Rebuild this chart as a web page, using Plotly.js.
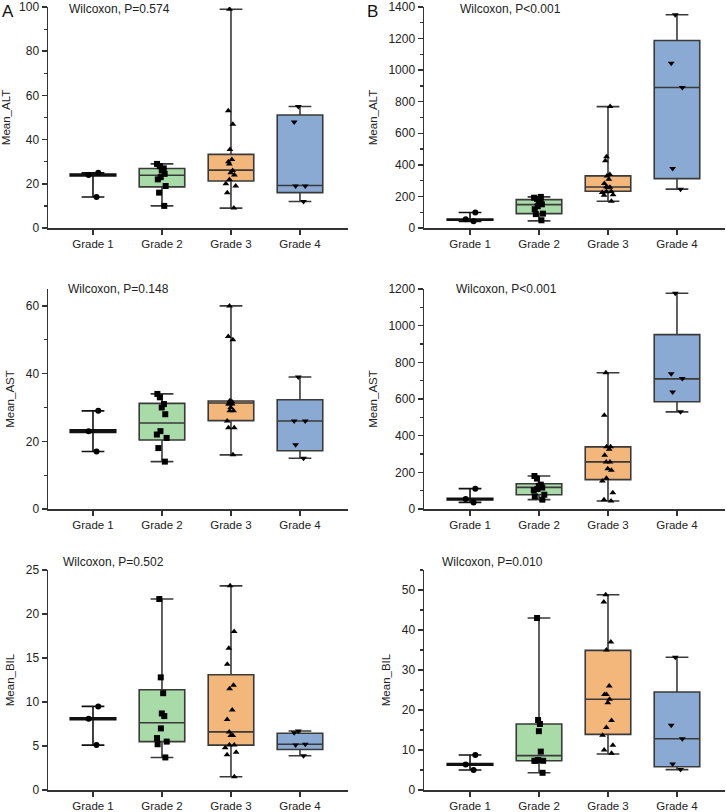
<!DOCTYPE html>
<html>
<head>
<meta charset="utf-8">
<script src="https://cdn.plot.ly/plotly-3.0.1.min.js"></script>
<style>html,body{margin:0;padding:0;background:#fff}#chart{width:726px;height:812px}</style>
</head>
<body>
<div id="chart"></div>
<script>
// ---------- data ----------
const categories = ['Grade 1', 'Grade 2', 'Grade 3', 'Grade 4'];

// Panel A – Mean_ALT
const altA_g1 = [14, 24, 25];
const altA_g2 = [10, 16, 19, 22, 23, 24.5, 26, 27, 28, 29];
const altA_g3 = [9, 16, 19, 20, 22, 24, 25, 26, 29, 30, 31, 35.5, 47, 53, 99];
const altA_g4 = [12, 19, 19, 48, 55];
const altA_q1 = [23.6, 18.6, 21.3, 16.0];
const altA_med = [24, 23.9, 26.2, 19.2];
const altA_q3 = [24.4, 26.9, 33.3, 51.1];
const altA_lo = [14, 10, 9, 12];
const altA_hi = [25, 29, 99, 55];

// Panel B – Mean_ALT
const altB_g1 = [42, 55, 98];
const altB_g2 = [49, 88, 91, 119, 138, 150, 155, 169, 185, 192, 197];
const altB_g3 = [169, 208, 210, 225, 230, 232, 255, 258, 262, 282, 309, 330, 339, 426, 451, 769];
const altB_g4 = [246, 377, 890, 1044, 1351];
const altB_q1 = [49, 91, 233, 313];
const altB_med = [53, 148, 260, 890];
const altB_q3 = [57, 180, 330, 1188];
const altB_lo = [42, 45, 169, 246];
const altB_hi = [98, 197, 769, 1351];

// Panel A – Mean_AST
const astA_g1 = [17, 23, 29];
const astA_g2 = [14, 18, 21, 22, 23, 28, 30, 31, 33, 34];
const astA_g3 = [16, 24, 24, 26, 29, 29, 30, 31, 31, 31, 31.7, 32, 50, 51, 60];
const astA_g4 = [15, 19, 26, 26, 39];
const astA_q1 = [22.6, 20.4, 26.1, 17.2];
const astA_med = [23, 25.4, 31.3, 26.0];
const astA_q3 = [23.4, 31.2, 31.9, 32.3];
const astA_lo = [17, 14, 16, 15];
const astA_hi = [29, 34, 60, 39];

// Panel B – Mean_AST
const astB_g1 = [36, 55, 111];
const astB_g2 = [51, 69, 78, 102, 109, 117, 126, 133, 166, 180];
const astB_g3 = [44, 51, 89, 153, 168, 211, 220, 257, 257, 293, 326, 339, 339, 512, 743];
const astB_g4 = [530, 638, 712, 738, 1177];
const astB_q1 = [50, 78, 160, 585];
const astB_med = [54, 118, 257, 710];
const astB_q3 = [58, 138, 339, 951];
const astB_lo = [36, 51, 44, 530];
const astB_hi = [111, 180, 743, 1177];

// Panel A – Mean_BIL
const bilA_g1 = [5.1, 8.1, 9.5];
const bilA_g2 = [3.7, 5.2, 5.5, 5.9, 7.0, 8.4, 8.7, 11.0, 12.8, 21.7];
const bilA_g3 = [1.5, 4.0, 4.3, 4.8, 5.1, 5.1, 6.2, 6.2, 6.6, 8.0, 9.1, 11.5, 11.9, 14.3, 16.1, 18.0, 23.2];
const bilA_g4 = [3.9, 5.1, 5.2, 6.5, 6.7];
const bilA_q1 = [8.0, 5.5, 5.1, 4.6];
const bilA_med = [8.1, 7.65, 6.6, 5.2];
const bilA_q3 = [8.2, 11.4, 13.1, 6.45];
const bilA_lo = [5.1, 3.7, 1.5, 3.9];
const bilA_hi = [9.5, 21.7, 23.2, 6.7];

// Panel B – Mean_BIL
const bilB_g1 = [5.0, 6.4, 8.75];
const bilB_g2 = [4.3, 7.3, 7.3, 7.3, 7.5, 9.6, 14.7, 16.5, 17.5, 43];
const bilB_g3 = [9.2, 10, 11.2, 13.7, 15.6, 17.4, 21.8, 22.7, 23.9, 23.9, 26, 35, 37, 47, 48.8];
const bilB_g4 = [5.1, 6.5, 12.8, 16.2, 33.2];
const bilB_q1 = [6.2, 7.3, 13.9, 5.8];
const bilB_med = [6.4, 8.6, 22.7, 12.8];
const bilB_q3 = [6.6, 16.5, 34.9, 24.5];
const bilB_lo = [5.0, 4.3, 9.0, 5.1];
const bilB_hi = [8.75, 43, 48.8, 33.2];

const pTexts = ['Wilcoxon, P=0.574', 'Wilcoxon, P<0.001', 'Wilcoxon, P=0.148', 'Wilcoxon, P<0.001', 'Wilcoxon, P=0.502', 'Wilcoxon, P=0.010'];
const yTitles = ['Mean_ALT', 'Mean_ALT', 'Mean_AST', 'Mean_AST', 'Mean_BIL', 'Mean_BIL'];

// ---------- styling ----------
const FONT = 'Liberation Sans, Arial, Helvetica, sans-serif';
const fills = ['rgba(255,255,255,0)', '#a9dba9', '#f3b77c', '#8aaad3'];
const symbols = ['circle', 'square', 'triangle-up', 'triangle-down'];
const boxLineC = ['#111', '#3a3a3a', '#3a3a3a', '#3a3a3a'];
const boxW = 0.66;
const lineCol = '#333';

const panels = [
  {groups: [altA_g1, altA_g2, altA_g3, altA_g4], q1: altA_q1, med: altA_med, q3: altA_q3, lo: altA_lo, hi: altA_hi},
  {groups: [altB_g1, altB_g2, altB_g3, altB_g4], q1: altB_q1, med: altB_med, q3: altB_q3, lo: altB_lo, hi: altB_hi},
  {groups: [astA_g1, astA_g2, astA_g3, astA_g4], q1: astA_q1, med: astA_med, q3: astA_q3, lo: astA_lo, hi: astA_hi},
  {groups: [astB_g1, astB_g2, astB_g3, astB_g4], q1: astB_q1, med: astB_med, q3: astB_q3, lo: astB_lo, hi: astB_hi},
  {groups: [bilA_g1, bilA_g2, bilA_g3, bilA_g4], q1: bilA_q1, med: bilA_med, q3: bilA_q3, lo: bilA_lo, hi: bilA_hi},
  {groups: [bilB_g1, bilB_g2, bilB_g3, bilB_g4], q1: bilB_q1, med: bilB_med, q3: bilB_q3, lo: bilB_lo, hi: bilB_hi}
];

// axis geometry (pixels in a 726x812 page)
const W = 726, H = 812;
const xPix = [[48, 348], [424, 725]];
const xRanges = [[-0.652, 3.696], [-0.667, 3.696]];
const yPix = [[7, 228], [7, 228], [289, 509], [289, 509], [570, 790], [570, 790]];
const yRanges = [[0, 100], [0, 1400], [0, 65], [0, 1200], [0, 25], [0, 55]];
const yDticks = [20, 200, 20, 200, 5, 10];
const yMinor = [10, 100, 10, 100, null, 5];

const traces = [];
const layout = {
  width: W, height: H,
  margin: {l: 0, r: 0, t: 0, b: 0},
  paper_bgcolor: '#fff', plot_bgcolor: '#fff',
  showlegend: false,
  boxmode: 'overlay',
  font: {family: FONT, color: '#222', size: 12},
  annotations: []
};

panels.forEach((p, i) => {
  const n = i + 1;
  const xa = n === 1 ? 'x' : 'x' + n;
  const ya = n === 1 ? 'y' : 'y' + n;
  const col = i % 2;
  // boxes (precomputed stats, whiskers min-max)
  categories.forEach((c, g) => {
    traces.push({
      type: 'box', xaxis: xa, yaxis: ya,
      x: [c], q1: [p.q1[g]], median: [p.med[g]], q3: [p.q3[g]],
      lowerfence: [p.lo[g]], upperfence: [p.hi[g]],
      boxpoints: false, width: boxW, whiskerwidth: 0.5,
      fillcolor: fills[g], line: {color: boxLineC[g], width: 1.6},
      hoverinfo: 'skip'
    });
  });
  // individual points
  categories.forEach((c, g) => {
    const vals = p.groups[g];
    traces.push({
      type: 'box', xaxis: xa, yaxis: ya,
      x: vals.map(() => c), y: vals,
      boxpoints: 'all', jitter: 0.3, pointpos: 0, width: boxW, whiskerwidth: 0,
      fillcolor: 'rgba(0,0,0,0)', line: {color: 'rgba(0,0,0,0)', width: 0},
      marker: {symbol: symbols[g], size: 6, color: '#000'},
      hoverinfo: 'y'
    });
  });

  const xk = n === 1 ? 'xaxis' : 'xaxis' + n;
  const yk = n === 1 ? 'yaxis' : 'yaxis' + n;
  layout[xk] = {
    domain: [xPix[col][0] / W, xPix[col][1] / W],
    anchor: ya, type: 'category', categoryorder: 'array', categoryarray: categories,
    range: xRanges[col],
    showline: true, linecolor: lineCol, linewidth: 1.5,
    ticks: 'outside', ticklen: 5, tickwidth: 1.5, tickcolor: lineCol,
    tickfont: {family: FONT, size: 11.5, color: '#222'},
    showgrid: false, zeroline: false, fixedrange: true
  };
  const yax = {
    domain: [(H - yPix[i][1]) / H, (H - yPix[i][0]) / H],
    anchor: xa, range: yRanges[i], dtick: yDticks[i], tick0: 0,
    showline: true, linecolor: lineCol, linewidth: 1.5,
    ticks: 'outside', ticklen: 5, tickwidth: 1.5, tickcolor: lineCol,
    tickfont: {family: FONT, size: 12, color: '#222'},
    showgrid: false, zeroline: false, fixedrange: true,
    title: {text: yTitles[i], font: {family: FONT, size: 11.5, color: '#222'}, standoff: 8}
  };
  if (yMinor[i]) {
    yax.minor = {dtick: yMinor[i], ticks: 'outside', ticklen: 3, tickwidth: 1.2, tickcolor: lineCol, showgrid: false};
  }
  layout[yk] = yax;

  // Wilcoxon text
  const pX = [[67, 458], [66, 454], [61, 440]];
  const pY = [9, 289, 562];
  const row = Math.floor(i / 2);
  layout.annotations.push({
    xref: 'paper', yref: 'paper', x: pX[row][col] / W, y: (H - pY[row]) / H,
    xanchor: 'left', yanchor: 'middle', showarrow: false,
    text: pTexts[i], font: {family: FONT, size: 12, color: '#222'}
  });
});

// panel letters
layout.annotations.push({xref: 'paper', yref: 'paper', x: 0 / W, y: (H - 12) / H, xanchor: 'left', yanchor: 'middle', showarrow: false, text: 'A', font: {family: FONT, size: 17, color: '#111'}});
layout.annotations.push({xref: 'paper', yref: 'paper', x: 365 / W, y: (H - 12) / H, xanchor: 'left', yanchor: 'middle', showarrow: false, text: 'B', font: {family: FONT, size: 17, color: '#111'}});

Plotly.newPlot('chart', traces, layout, {displayModeBar: false, staticPlot: true});
</script>
</body>
</html>
